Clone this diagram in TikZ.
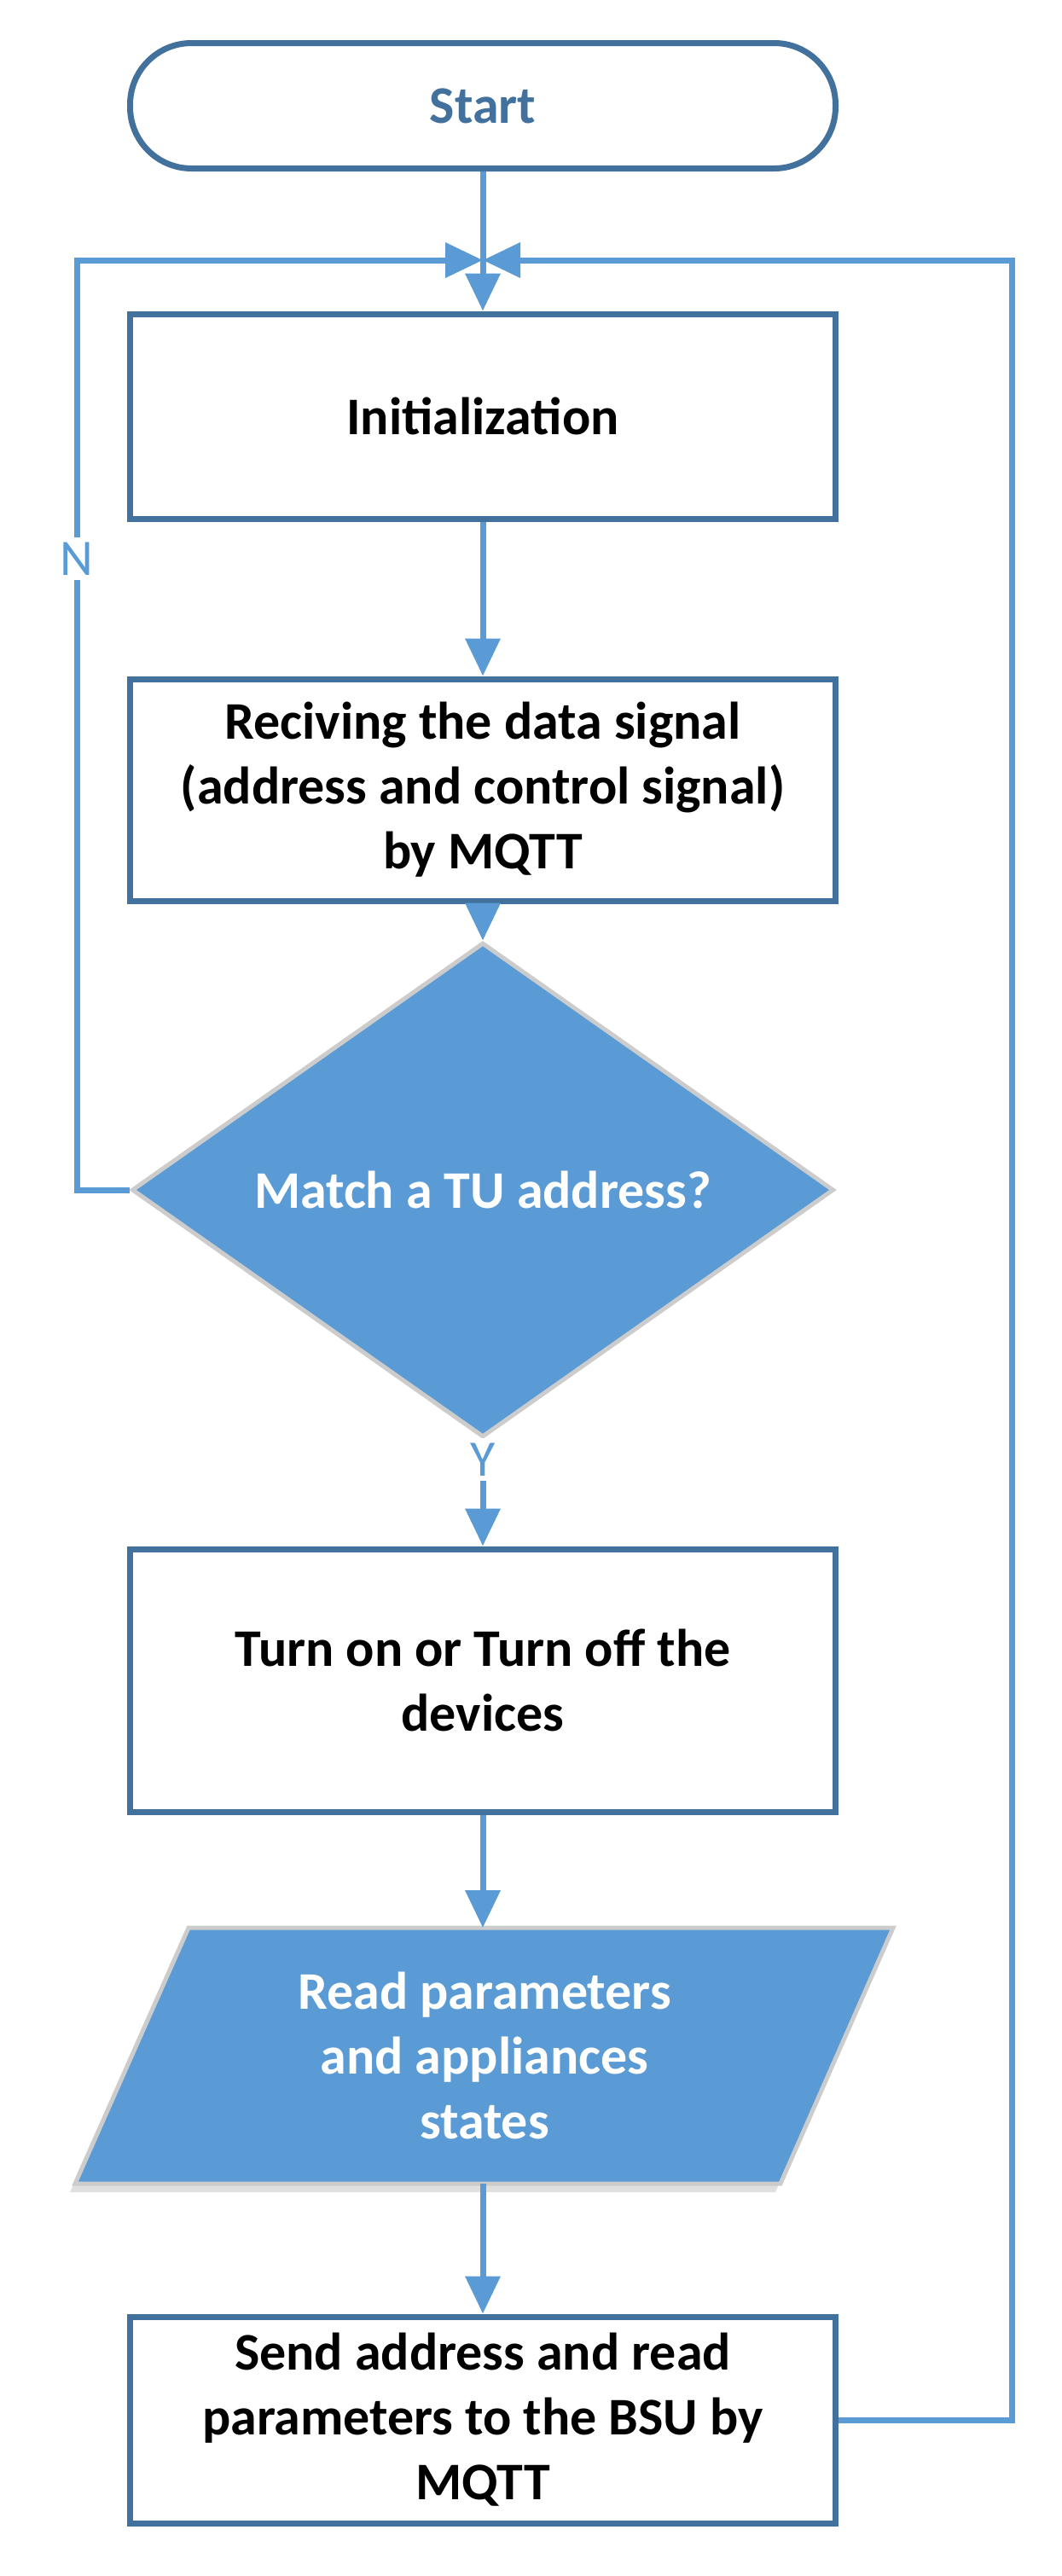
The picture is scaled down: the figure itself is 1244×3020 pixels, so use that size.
\documentclass[tikz,border=0pt]{standalone}
\usepackage{fontspec}
\setmainfont{Carlito}
\usetikzlibrary{shapes.geometric,arrows.meta,calc}
\definecolor{bd}{HTML}{41719C}
\definecolor{ln}{HTML}{5B9BD5}
\begin{document}
\begin{tikzpicture}[x=0.5pt,y=-0.5pt,
  box/.style={draw=bd,line width=3.5pt,fill=white,minimum width=413.5pt,align=center,font=\bfseries\fontsize{31}{38}\selectfont,inner sep=0pt},
  con/.style={draw=ln,line width=3.5pt,-{Triangle[length=22pt,width=20pt]}},
  lab/.style={fill=white,text=ln,font=\fontsize{30}{32}\selectfont,inner sep=3pt}]
\useasboundingbox (0,0) rectangle (1244,3020);
\node[box,rounded corners=36pt,minimum height=73.5pt,text=bd] (start) at (566,124) {Start};
\node[box,minimum height=120pt] (init) at (566,488) {Initialization};
\node[box,minimum height=130pt] (recv) at (566,926) {Reciving the data signal\\(address and control signal)\\by MQTT};
\node[diamond,draw=black!20,line width=2.5pt,fill=ln,minimum width=411.5pt,minimum height=206.5pt,inner sep=0pt,text=white,font=\bfseries\fontsize{31}{38}\selectfont] (dia) at (566,1395) {Match a TU address?};
\node[box,minimum height=154pt] (turn) at (566,1970) {Turn on or Turn off the\\devices};
\coordinate (p1) at (221,2260); \coordinate (p2) at (1047,2260);
\coordinate (p3) at (915,2560); \coordinate (p4) at (88,2560);
\fill[black!12] ($(p1)+(-6,10)$) -- ($(p2)+(-6,10)$) -- ($(p3)+(-6,10)$) -- ($(p4)+(-6,10)$) -- cycle;
\filldraw[fill=ln,draw=black!20,line width=2.5pt] (p1) -- (p2) -- (p3) -- (p4) -- cycle;
\node[text=white,align=center,font=\bfseries\fontsize{31}{38}\selectfont] (read) at (568,2410) {Read parameters\\and appliances\\states};
\coordinate (readtop) at (566,2260);
\coordinate (readbot) at (566,2560);
\node[box,minimum height=121pt] (send) at (566,2837) {Send address and read\\parameters to the BSU by\\MQTT};
\coordinate (j) at (566,305);
\coordinate (jl) at (90,305);
\coordinate (jr) at (1186,305);
\coordinate (dl) at (90,1395);
\coordinate (sr) at (1186,2837);
\draw[con] (start.south) -- (init.north);
\draw[con] (init.south) -- (recv.north);
\draw[con] (recv.south) -- (dia.north);
\draw[con] (dia.south) -- (turn.north);
\draw[con] (turn.south) -- (readtop);
\draw[con] (readbot) -- (send.north);
\draw[con] (dia.west) -- (dl) -- (jl) -- (j);
\draw[con] (send.east) -- (sr) -- (jr) -- (j);
\node[lab] (N) at (90,655) {N};
\node[lab] (Y) at (566,1711) {Y};
\end{tikzpicture}
\end{document}
